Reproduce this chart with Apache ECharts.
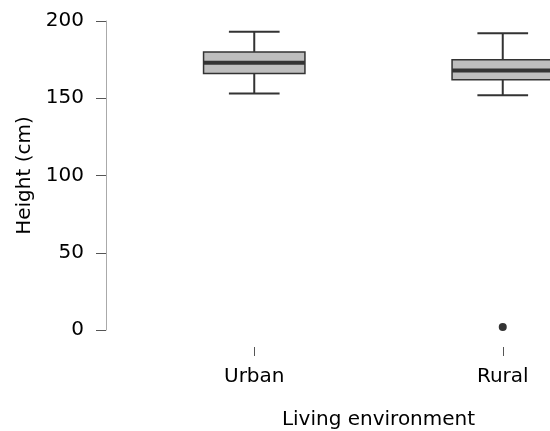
<!DOCTYPE html>
<html>
<head>
<meta charset="utf-8">
<style>html,body{margin:0;padding:0;background:#fff}#c{width:550px;height:431px}</style>
<script src="https://cdn.jsdelivr.net/npm/echarts@6/dist/echarts.min.js"></script>
</head>
<body>
<div id="c"></div>
<script>
const categories = ['Urban', 'Rural'];
const lowerWhisker = [153, 152];
const q1 = [166, 162];
const median = [173, 168];
const q3 = [180, 175];
const upperWhisker = [193, 192];
const outliers = [['Rural', 2]];
const yTicks = [0, 50, 100, 150, 200];

const boxData = categories.map((c, i) => [i, lowerWhisker[i], q1[i], median[i], q3[i], upperWhisker[i]]);
const FONT = 'DejaVu Sans';

const chart = echarts.init(document.getElementById('c'));
chart.setOption({
  animation: false,
  backgroundColor: '#fff',
  grid: { left: 130, top: 21, width: 497, height: 309, containLabel: false, outerBoundsMode: 'none' },
  xAxis: {
    type: 'category',
    data: categories,
    offset: 17,
    axisLine: { show: false },
    axisTick: { show: true, alignWithLabel: true, length: 26,
      lineStyle: { color: '#555', width: 1, type: [0, 17, 9, 60] } },
    axisLabel: { margin: 20, fontSize: 20, color: '#000', fontFamily: FONT },
    splitLine: { show: false },
    name: 'Living environment',
    nameLocation: 'middle',
    nameGap: 63,
    nameTextStyle: { fontSize: 20, color: '#000', fontFamily: FONT }
  },
  yAxis: {
    type: 'value',
    min: yTicks[0],
    max: yTicks[yTicks.length - 1],
    interval: 50,
    offset: 24,
    axisLine: { show: true, lineStyle: { color: '#aaa', width: 1 } },
    axisTick: { show: true, length: 10, lineStyle: { color: '#555', width: 1 } },
    axisLabel: { margin: 22, fontSize: 20, color: '#000', fontFamily: FONT },
    splitLine: { show: false },
    name: 'Height (cm)',
    nameLocation: 'middle',
    nameGap: 70,
    nameTextStyle: { fontSize: 20, color: '#000', fontFamily: FONT }
  },
  series: [
    {
      type: 'custom',
      data: boxData,
      encode: { x: 0, y: [1, 2, 3, 4, 5] },
      renderItem: function (params, api) {
        const x = api.value(0);
        const pLow = api.coord([x, api.value(1)]);
        const pQ1 = api.coord([x, api.value(2)]);
        const pMed = api.coord([x, api.value(3)]);
        const pQ3 = api.coord([x, api.value(4)]);
        const pHigh = api.coord([x, api.value(5)]);
        const band = api.size([1, 0])[0];
        const bw = band * 0.408;
        const cw = bw / 2;
        const cx = pMed[0];
        const lineStyle = { stroke: '#333', lineWidth: 2 };
        return {
          type: 'group',
          children: [
            { type: 'line', shape: { x1: cx, y1: pLow[1], x2: cx, y2: pQ1[1] }, style: lineStyle },
            { type: 'line', shape: { x1: cx, y1: pQ3[1], x2: cx, y2: pHigh[1] }, style: lineStyle },
            { type: 'line', shape: { x1: cx - cw / 2, y1: pLow[1], x2: cx + cw / 2, y2: pLow[1] }, style: lineStyle },
            { type: 'line', shape: { x1: cx - cw / 2, y1: pHigh[1], x2: cx + cw / 2, y2: pHigh[1] }, style: lineStyle },
            { type: 'rect', shape: { x: cx - bw / 2, y: pQ3[1], width: bw, height: pQ1[1] - pQ3[1] },
              style: { fill: '#bebebe', stroke: '#333', lineWidth: 1.5 } },
            { type: 'line', shape: { x1: cx - bw / 2, y1: pMed[1], x2: cx + bw / 2, y2: pMed[1] },
              style: { stroke: '#333', lineWidth: 4 } }
          ]
        };
      }
    },
    {
      type: 'scatter',
      data: outliers,
      symbol: 'circle',
      symbolSize: 8,
      itemStyle: { color: '#333', opacity: 1 }
    }
  ]
});
</script>
</body>
</html>
